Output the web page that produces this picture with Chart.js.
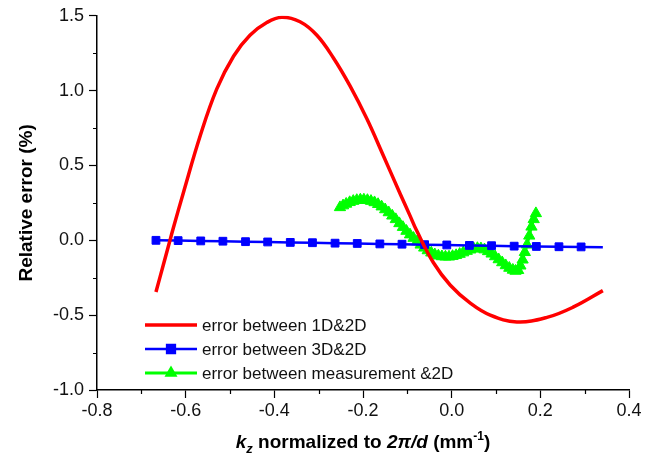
<!DOCTYPE html>
<html>
<head>
<meta charset="utf-8">
<script src="https://cdn.jsdelivr.net/npm/chart.js@4.4.1/dist/chart.umd.min.js"></script>
<style>
  body { margin: 0; background: #fff; }
  #wrap { width: 672px; height: 459px; }
</style>
</head>
<body>
<div id="wrap"><canvas id="chart" width="672" height="459"></canvas></div>
<script>
// values

const seriesNames = ['error between 1D&2D', 'error between 3D&2D', 'error between measurement &2D'];

// 1D & 2D (red, smooth line)
const redX = [-0.667, -0.650, -0.639, -0.628, -0.605, -0.567, -0.530, -0.492, -0.455, -0.417, -0.383,
              -0.342, -0.304, -0.267, -0.229, -0.191, -0.154, -0.116, -0.094, -0.079, -0.041, -0.003,
              0.042, 0.087, 0.147, 0.215, 0.275, 0.341];
const redY = [-0.345, -0.160, -0.040, 0.080, 0.320, 0.700, 1.010, 1.230, 1.370, 1.455, 1.490,
              1.460, 1.370, 1.220, 1.030, 0.810, 0.565, 0.310, 0.165, 0.065, -0.150, -0.300,
              -0.420, -0.500, -0.545, -0.515, -0.445, -0.336];

// 3D & 2D (blue, squares)
const blueX = [-0.667, -0.617, -0.566, -0.516, -0.465, -0.415, -0.364, -0.314, -0.263, -0.213,
               -0.162, -0.112, -0.061, -0.011, 0.040, 0.090, 0.141, 0.191, 0.242, 0.292, 0.341];
const blueY = [0.000, -0.002, -0.004, -0.006, -0.009, -0.011, -0.014, -0.016, -0.019, -0.021,
               -0.024, -0.026, -0.029, -0.031, -0.034, -0.036, -0.039, -0.041, -0.043, -0.044, -0.046];

// measurement & 2D (green, triangles)
const greenX = [-0.252, -0.245, -0.238, -0.230, -0.222, -0.214, -0.206, -0.198, -0.190, -0.182,
                -0.174, -0.166, -0.158, -0.150, -0.142, -0.134, -0.126, -0.118, -0.110, -0.102,
                -0.094, -0.086, -0.078, -0.070, -0.062, -0.054, -0.046, -0.038, -0.030, -0.022,
                -0.014, -0.006, 0.002, 0.010, 0.018, 0.026, 0.034, 0.042, 0.050, 0.058,
                0.066, 0.074, 0.082, 0.090, 0.098, 0.106, 0.114, 0.122, 0.130, 0.138,
                0.144, 0.150, 0.155, 0.160, 0.165, 0.170, 0.175, 0.180, 0.185, 0.190];
const greenY = [0.220, 0.232, 0.243, 0.254, 0.262, 0.268, 0.271, 0.271, 0.268, 0.262,
                0.253, 0.241, 0.225, 0.206, 0.186, 0.164, 0.140, 0.113, 0.088, 0.062,
                0.038, 0.015, -0.008, -0.030, -0.050, -0.068, -0.083, -0.095, -0.103, -0.108,
                -0.110, -0.110, -0.106, -0.100, -0.092, -0.082, -0.072, -0.063, -0.056, -0.053,
                -0.055, -0.062, -0.074, -0.090, -0.108, -0.128, -0.148, -0.168, -0.185, -0.198,
                -0.205, -0.200, -0.170, -0.130, -0.080, -0.030, 0.030, 0.090, 0.140, 0.180];

const xTicksMinor = [-0.7, -0.5, -0.3, -0.1, 0.1, 0.3];
const yTicksMinor = [-0.75, -0.25, 0.25, 0.75, 1.25];

const FONT = '"Liberation Sans", Arial, sans-serif';

function pairs(xs, ys) {
    return xs.map((x, i) => ({ x: x, y: ys[i] }));
}

// blue markers on every point except the line end
const bluePointR = blueX.map((x, i) => i === blueX.length - 1 ? 0 : 5.5);

// minor ticks, drawn from the scales
const minorTicks = {
    id: 'minorTicks',
    afterDraw(chart) {
        const ctx = chart.ctx;
        const xs = chart.scales.x, ys = chart.scales.y;
        ctx.save();
        ctx.strokeStyle = '#000';
        ctx.lineWidth = 1.2;
        ctx.beginPath();
        for (const v of xTicksMinor) {
            const px = Math.round(xs.getPixelForValue(v)) + 0.5;
            ctx.moveTo(px, ys.bottom);
            ctx.lineTo(px, ys.bottom + 4);
        }
        for (const v of yTicksMinor) {
            const py = Math.round(ys.getPixelForValue(v)) + 0.5;
            ctx.moveTo(xs.left, py);
            ctx.lineTo(xs.left - 4, py);
        }
        ctx.stroke();
        ctx.restore();
    }
};

// x axis title with sub/superscripts
const xTitle = {
    id: 'xTitle',
    afterDraw(chart) {
        const ctx = chart.ctx;
        const parts = [
            { t: 'k', f: 'bold italic 19px ' + FONT, dy: 0 },
            { t: 'z', f: 'bold italic 13px ' + FONT, dy: 5 },
            { t: ' normalized to ', f: 'bold 19px ' + FONT, dy: 0 },
            { t: '2\u03C0/d', f: 'bold italic 19px ' + FONT, dy: 0 },
            { t: ' (mm', f: 'bold 19px ' + FONT, dy: 0 },
            { t: '-1', f: 'bold 12px ' + FONT, dy: -8 },
            { t: ')', f: 'bold 19px ' + FONT, dy: 0 }
        ];
        ctx.save();
        ctx.fillStyle = '#000';
        ctx.textBaseline = 'alphabetic';
        let total = 0;
        for (const p of parts) { ctx.font = p.f; p.w = ctx.measureText(p.t).width; total += p.w; }
        const area = chart.chartArea;
        let x = (area.left + area.right) / 2 - total / 2;
        const y = 448;
        for (const p of parts) {
            ctx.font = p.f;
            ctx.fillText(p.t, x, y + p.dy);
            x += p.w;
        }
        ctx.restore();
    }
};

// legend inside the plot, lower left
const insideLegend = {
    id: 'insideLegend',
    afterDraw(chart) {
        const ctx = chart.ctx;
        ctx.save();
        chart.data.datasets.forEach((ds, i) => {
            const y = 325 + i * 24;
            const x0 = 145, x1 = 197;
            ctx.strokeStyle = ds.borderColor;
            ctx.lineWidth = ds.borderWidth;
            ctx.beginPath();
            ctx.moveTo(x0, y);
            ctx.lineTo(x1, y);
            ctx.stroke();
            if (ds.legendMarker) {
                ctx.fillStyle = ds.pointBackgroundColor;
                ctx.strokeStyle = ds.pointBorderColor;
                Chart.helpers.drawPoint(ctx, {
                    pointStyle: ds.pointStyle,
                    radius: ds.legendMarker,
                    borderWidth: 1
                }, (x0 + x1) / 2, y);
            }
            ctx.fillStyle = '#111';
            ctx.font = '17px ' + FONT;
            ctx.textBaseline = 'middle';
            ctx.fillText(ds.label, 202, y + 1);
        });
        ctx.restore();
    }
};

const ctx = document.getElementById('chart').getContext('2d');
new Chart(ctx, {
    type: 'line',
    data: {
        datasets: [
            {
                label: seriesNames[0],
                data: pairs(redX, redY),
                borderColor: '#ff0000',
                borderWidth: 3.5,
                pointRadius: 0,
                tension: 0.4,
                fill: false
            },
            {
                label: seriesNames[1],
                data: pairs(blueX, blueY),
                borderColor: '#0000ff',
                borderWidth: 2.5,
                pointStyle: 'rect',
                pointRadius: bluePointR,
                pointBackgroundColor: '#0000ff',
                pointBorderColor: '#0000ff',
                pointBorderWidth: 1,
                legendMarker: 5.5,
                fill: false
            },
            {
                label: seriesNames[2],
                data: pairs(greenX, greenY),
                borderColor: '#00ff00',
                borderWidth: 3,
                pointStyle: 'triangle',
                pointRadius: 6.5,
                pointBackgroundColor: '#00ff00',
                pointBorderColor: '#00ff00',
                pointBorderWidth: 1,
                legendMarker: 4.5,
                tension: 0.3,
                fill: false
            }
        ]
    },
    options: {
        responsive: false,
        animation: false,
        layout: { padding: { top: 15, right: 43, left: 0, bottom: 0 } },
        plugins: { legend: { display: false }, tooltip: { enabled: false } },
        scales: {
            x: {
                type: 'linear',
                min: -0.8,
                max: 0.4,
                afterFit(scale) { scale.height = 69; },
                border: { display: true, color: '#000', width: 1.5 },
                grid: { drawOnChartArea: false, drawTicks: true, tickLength: 8, tickColor: '#000', tickWidth: 1.2 },
                ticks: {
                    stepSize: 0.2,
                    padding: 2,
                    color: '#111',
                    font: { family: FONT, size: 18 },
                    maxRotation: 0,
                    callback: v => v.toFixed(1)
                }
            },
            y: {
                type: 'linear',
                min: -1.0,
                max: 1.5,
                afterFit(scale) { scale.width = 97; },
                border: { display: true, color: '#000', width: 1.5 },
                grid: { drawOnChartArea: false, drawTicks: true, tickLength: 8, tickColor: '#000', tickWidth: 1.2 },
                ticks: {
                    stepSize: 0.5,
                    padding: 5,
                    color: '#111',
                    font: { family: FONT, size: 18 },
                    callback: v => v.toFixed(1)
                },
                title: {
                    display: true,
                    text: 'Relative error (%)',
                    color: '#000',
                    font: { family: FONT, size: 19, weight: 'bold' },
                    padding: { top: 15, bottom: 0 }
                }
            }
        }
    },
    plugins: [minorTicks, xTitle, insideLegend]
});
</script>
</body>
</html>
